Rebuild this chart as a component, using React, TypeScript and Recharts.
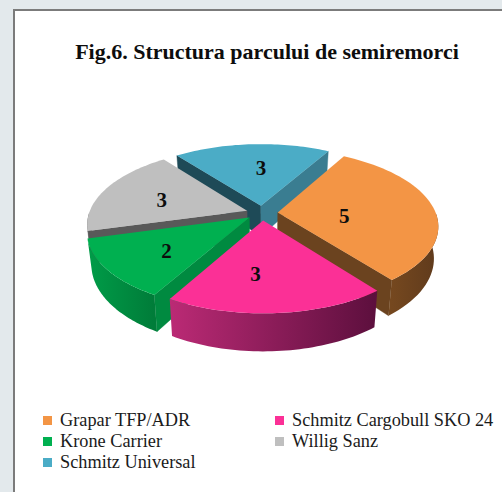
import React from "react";
import { PieChart, Pie, Legend } from "recharts";

const categories = ["Grapar TFP/ADR", "Schmitz Cargobull SKO 24", "Krone Carrier", "Willig Sanz", "Schmitz Universal"];
const values = [5, 3, 2, 3, 3];
const title = "Fig.6. Structura parcului de semiremorci";
const slices = categories.map((name, i) => ({ name, value: values[i] }));

const W = 502;
const H = 492;
const CX = 262;
const CY = 213;
const RX = 158;
const SQUASH = 0.47;
const PERSP = 0.169;
const DEPTH = 31;
const EXPLODE = 0.1;
const SHRINK = 0.025;

type Look = { top: string; wallFrom: string; wallTo: string; faceStart: string; faceEnd: string; labelAt: number; labelTurn: number };
const LOOKS: Record<string, Look> = {
  "Grapar TFP/ADR": { top: "#f39545", wallFrom: "#75481f", wallTo: "#5f3a1c", faceStart: "#6b431f", faceEnd: "#6b431f", labelAt: 0.42, labelTurn: -11 },
  "Schmitz Cargobull SKO 24": { top: "#fb3096", wallFrom: "#bb2a75", wallTo: "#5c0f3d", faceStart: "#8a1f5a", faceEnd: "#8a1f5a", labelAt: 0.62, labelTurn: -8 },
  "Krone Carrier": { top: "#00b050", wallFrom: "#009c48", wallTo: "#007c39", faceStart: "#008a40", faceEnd: "#008a40", labelAt: 0.63, labelTurn: 3 },
  "Willig Sanz": { top: "#bfbfbf", wallFrom: "#6a6a6a", wallTo: "#595959", faceStart: "#595959", faceEnd: "#595959", labelAt: 0.58, labelTurn: 3 },
  "Schmitz Universal": { top: "#4bacc6", wallFrom: "#3a7d91", wallTo: "#3a7d91", faceStart: "#1e4a57", faceEnd: "#3a7d91", labelAt: 0.58, labelTurn: -4 },
};
const PAINT_ORDER = [4, 3, 0, 2, 1];

const RAD = Math.PI / 180;

function project(cx: number, cy: number, rx: number, u: number, v: number, depth: number) {
  const s = 1 / (1 - PERSP * v);
  const ry = rx * SQUASH;
  const shrink = 1 - SHRINK * (depth / DEPTH);
  return { x: cx + rx * u * s * shrink, y: cy + ry * v * s + depth * s };
}

const toPath = (pts: { x: number; y: number }[]) =>
  pts.map((p, i) => `${i ? "L" : "M"}${p.x.toFixed(2)} ${p.y.toFixed(2)}`).join(" ") + " Z";

function Slice3D(props: any) {
  const { cx, cy, outerRadius, startAngle, endAngle, midAngle, name } = props;
  const look = LOOKS[name];
  const mid = midAngle ?? (startAngle + endAngle) / 2;
  const ou = EXPLODE * Math.cos(mid * RAD);
  const ov = -EXPLODE * Math.sin(mid * RAD);
  const at = (a: number, r: number, depth: number) =>
    project(cx, cy, outerRadius, ou + r * Math.cos(a * RAD), ov - r * Math.sin(a * RAD), depth);

  const steps = 48;
  const angles: number[] = [];
  for (let i = 0; i <= steps; i++) angles.push(startAngle + ((endAngle - startAngle) * i) / steps);

  const apex = at(0, 0, 0);
  const apexLow = at(0, 0, DEPTH);
  const rim = angles.map((a) => at(a, 1, 0));
  const midRim = at(mid, 1, 0);

  const faceVisible = (p: { x: number; y: number }) => {
    const dx = p.x - apex.x;
    const dy = p.y - apex.y;
    const inner = dx * (midRim.y - apex.y) - dy * (midRim.x - apex.x);
    const down = dx * 1 - dy * 0;
    return inner * down < 0;
  };

  const front = angles.filter((a) => ov - Math.sin(a * RAD) > -0.02);
  const wallTop = front.map((a) => at(a, 1, 0));
  const wallLow = front.map((a) => at(a, 1, DEPTH)).reverse();
  const gradientId = "wall-" + name.replace(/[^a-zA-Z0-9]/g, "");
  const xs = wallTop.map((p) => p.x);

  const face = (a: number, fill: string) => {
    const p = at(a, 1, 0);
    if (!faceVisible(p)) return null;
    return <path d={toPath([apex, p, at(a, 1, DEPTH), apexLow])} fill={fill} stroke={fill} strokeWidth={0.4} />;
  };

  return (
    <g>
      {xs.length > 1 && (
        <defs>
          <linearGradient id={gradientId} gradientUnits="userSpaceOnUse" x1={Math.min(...xs)} x2={Math.max(...xs)} y1={0} y2={0}>
            <stop offset="0" stopColor={look.wallFrom} />
            <stop offset="1" stopColor={look.wallTo} />
          </linearGradient>
        </defs>
      )}
      {face(startAngle, look.faceStart)}
      {face(endAngle, look.faceEnd)}
      {xs.length > 1 && <path d={toPath([...wallTop, ...wallLow])} fill={`url(#${gradientId})`} />}
      <path d={toPath([apex, ...rim])} fill={look.top} />
    </g>
  );
}

function ValueLabel(props: any) {
  const { cx, cy, outerRadius, midAngle, value, name } = props;
  const ou = EXPLODE * Math.cos(midAngle * RAD);
  const ov = -EXPLODE * Math.sin(midAngle * RAD);
  const r = LOOKS[name].labelAt;
  const a = (midAngle + LOOKS[name].labelTurn) * RAD;
  const p = project(cx, cy, outerRadius, ou + r * Math.cos(a), ov - r * Math.sin(a), 0);
  return (
    <text x={p.x} y={p.y} textAnchor="middle" dominantBaseline="central" fontFamily="'Liberation Serif', serif" fontWeight="bold" fontSize={21} fill="#0d0d0d">
      {value}
    </text>
  );
}

function LegendBlock() {
  const columns = [13, 245];
  return (
    <div style={{ position: "relative", width: 470, height: 66, fontFamily: "'Liberation Serif', serif", fontSize: 18.3, color: "#1a1a1a" }}>
      {slices.map((s, i) => {
        const col = i % 2;
        const row = Math.floor(i / 2);
        return (
          <div key={s.name} style={{ position: "absolute", left: columns[col], top: row * 21, height: 21, lineHeight: "21px", whiteSpace: "nowrap" }}>
            <span style={{ position: "absolute", left: 0, top: 6, width: 9, height: 9, background: LOOKS[s.name].top }} />
            <span style={{ position: "absolute", left: 17, top: 0 }}>{s.name}</span>
          </div>
        );
      })}
    </div>
  );
}

export default function App() {
  return (
    <div style={{ position: "absolute", left: 0, top: 0, width: W, height: H, overflow: "hidden", background: "#e3e9ec" }}>
      <div style={{ position: "absolute", left: 13, top: 9, width: W, height: H, background: "#ffffff", borderLeft: "2px solid #7b7b7b", borderTop: "2px solid #7b7b7b" }} />
      <div style={{ position: "absolute", left: 0, top: 0 }}>
        <PieChart width={W} height={H} margin={{ top: 0, right: 0, bottom: 0, left: 0 }}>
          <text x={267} y={51} textAnchor="middle" dominantBaseline="central" fontFamily="'Liberation Serif', serif" fontWeight="bold" fontSize={22} fill="#0d0d0d">
            {title}
          </text>
          {PAINT_ORDER.map((k) => (
            <Pie
              key={k}
              data={slices}
              dataKey="value"
              nameKey="name"
              cx={CX}
              cy={CY}
              innerRadius={0}
              outerRadius={RX}
              startAngle={60.3}
              endAngle={-299.7}
              paddingAngle={0}
              stroke="none"
              isAnimationActive={false}
              legendType="none"
              shape={(p: any) => (p.name === slices[k].name ? <Slice3D {...p} /> : <g />)}
            />
          ))}
          <Pie
            data={slices}
            dataKey="value"
            nameKey="name"
            cx={CX}
            cy={CY}
            outerRadius={RX}
            startAngle={60.3}
            endAngle={-299.7}
            stroke="none"
            isAnimationActive={false}
            legendType="none"
            shape={() => <g />}
            label={(p: any) => <ValueLabel {...p} />}
            labelLine={false}
          />
          <Legend
            layout="horizontal"
            verticalAlign="middle"
            align="center"
            content={() => <LegendBlock />}
            wrapperStyle={{ position: "absolute", left: 30, top: 410, width: 470, height: 66 }}
          />
        </PieChart>
      </div>
    </div>
  );
}
